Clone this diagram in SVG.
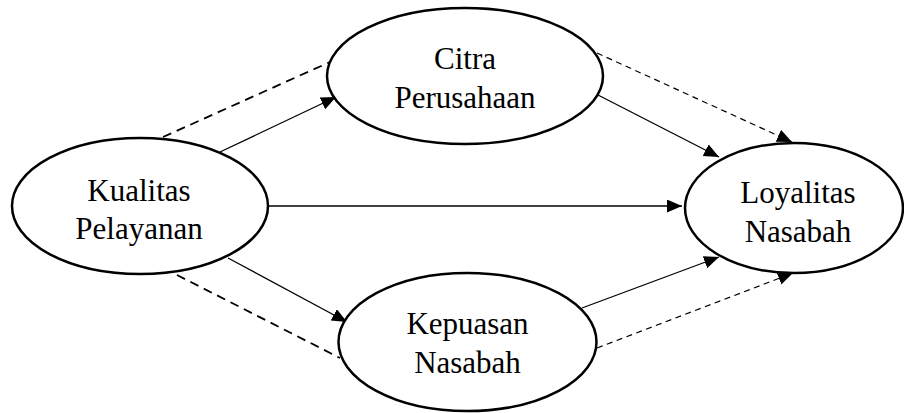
<svg xmlns="http://www.w3.org/2000/svg" width="904" height="413" viewBox="0 0 904 413">
<defs>
<style>
.node ellipse{fill:#fff;stroke:#000;stroke-width:2.5}
.node text{font-family:"Liberation Serif","Times New Roman",serif;font-size:31px;fill:#000;text-anchor:middle}
.solid{stroke:#000;stroke-width:1.3;fill:none}
.dash1{stroke:#000;stroke-width:1.8;fill:none;stroke-dasharray:9 6}
.dash2{stroke:#000;stroke-width:1.2;fill:none;stroke-dasharray:6 4.5}
</style>
<marker id="arr" markerUnits="userSpaceOnUse" markerWidth="16" markerHeight="14" refX="15" refY="6.5" orient="auto">
<path d="M0,0 L15,6.5 L0,13 Z" fill="#000"/>
</marker>
</defs>
<rect width="904" height="413" fill="#fff"/>
<g id="connectors">
<line class="dash1" x1="163" y1="137" x2="330" y2="62"/>
<line class="dash1" x1="177" y1="275" x2="340" y2="358"/>
<line class="dash2" x1="597" y1="53" x2="792" y2="142" marker-end="url(#arr)"/>
<line class="dash2" x1="597" y1="348" x2="793" y2="273" marker-end="url(#arr)"/>
<line class="solid" x1="220" y1="152" x2="336" y2="97" marker-end="url(#arr)"/>
<line class="solid" x1="268" y1="206" x2="682" y2="206" marker-end="url(#arr)"/>
<line class="solid" x1="228" y1="258" x2="347" y2="322" marker-end="url(#arr)"/>
<line class="solid" x1="598" y1="95" x2="719" y2="157" marker-end="url(#arr)"/>
<line class="solid" x1="582" y1="308" x2="719" y2="257" marker-end="url(#arr)"/>
</g>
<g id="kualitas" class="node">
<ellipse cx="140" cy="206" rx="128" ry="68"/>
<text x="139" y="201">Kualitas</text>
<text x="139" y="239">Pelayanan</text>
</g>
<g id="citra" class="node">
<ellipse cx="465" cy="76" rx="138" ry="68"/>
<text x="465" y="69">Citra</text>
<text x="465" y="108">Perusahaan</text>
</g>
<g id="kepuasan" class="node">
<ellipse cx="467.5" cy="342" rx="129" ry="69"/>
<text x="467.5" y="334">Kepuasan</text>
<text x="467.5" y="373">Nasabah</text>
</g>
<g id="loyalitas" class="node">
<ellipse cx="794" cy="208" rx="109" ry="65"/>
<text x="798" y="203">Loyalitas</text>
<text x="798" y="242">Nasabah</text>
</g>
</svg>
